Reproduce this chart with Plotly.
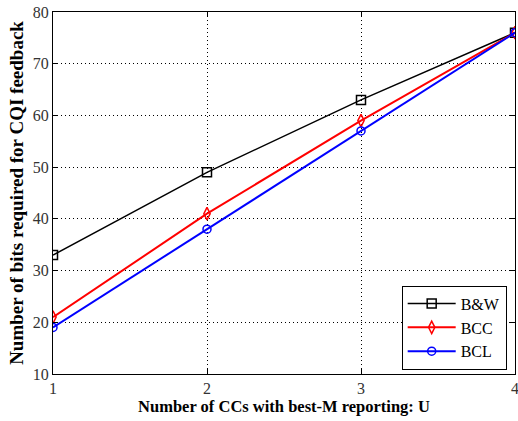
import plotly.graph_objects as go

x_vals = [1, 2, 3, 4]
bw = [33, 49, 63, 76]
bcc = [21, 41, 59, 76]
bcl = [19, 38, 57, 76]

fig = go.Figure()
fig.add_trace(go.Scatter(x=x_vals, y=bw, name="B&W", mode="lines+markers",
                         line=dict(color="black", width=1.5),
                         marker=dict(symbol="square-open", size=9, color="black", line=dict(width=1.5))))
fig.add_trace(go.Scatter(x=x_vals, y=bcc, name="BCC", mode="lines+markers",
                         line=dict(color="red", width=2),
                         marker=dict(symbol="diamond-tall-open", size=9, color="red", line=dict(width=1.5))))
fig.add_trace(go.Scatter(x=x_vals, y=bcl, name="BCL", mode="lines+markers",
                         line=dict(color="blue", width=2),
                         marker=dict(symbol="circle-open", size=8, color="blue", line=dict(width=1.5))))

axis_common = dict(showline=True, linecolor="black", linewidth=1, mirror="ticks",
                   ticks="inside", ticklen=5, tickcolor="black",
                   showgrid=True, gridcolor="black", griddash="1px,3px", gridwidth=1,
                   zeroline=False, ticklabeloverflow="allow", automargin=False,
                   tickfont=dict(family="Liberation Serif", size=16, color="#333"))

fig.update_xaxes(range=[1, 4], dtick=1, **axis_common,
                 title=dict(text="<b>Number of CCs with best-M reporting: U</b>",
                            font=dict(family="Liberation Serif", size=16.5, color="black"), standoff=4))
fig.update_yaxes(range=[10, 80], dtick=10, **axis_common,
                 title=dict(text="<b>Number of bits required for CQI feedback</b>",
                            font=dict(family="Liberation Serif", size=19, color="black"), standoff=4))

fig.update_layout(
    width=518, height=421,
    margin=dict(l=53, r=3, t=12, b=47),
    paper_bgcolor="white", plot_bgcolor="white",
    showlegend=True,
    legend=dict(x=0.982, y=0.012, xanchor="right", yanchor="bottom",
                bordercolor="black", borderwidth=1, bgcolor="white",
                font=dict(family="Liberation Serif", size=16, color="black"),
                tracegroupgap=0, itemwidth=48),
)

fig.write_html("out.html", config={"displayModeBar": False},
               post_script="document.body.style.margin='0';document.body.style.overflow='hidden';")
